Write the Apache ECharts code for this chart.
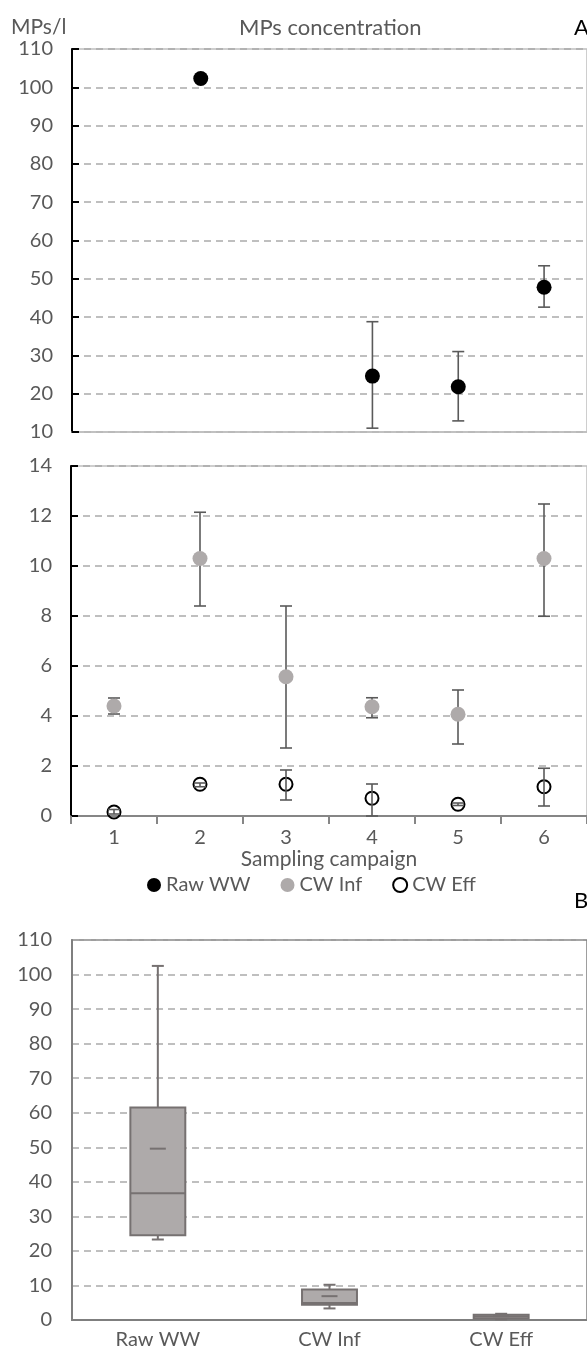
<!DOCTYPE html>
<html>
<head>
<meta charset="utf-8">
<title>MPs concentration</title>
<script src="https://cdn.jsdelivr.net/npm/echarts@6/dist/echarts.min.js"></script>
<style>
    html, body { margin: 0; padding: 0; background: #fff; }
    #mps-chart { width: 587px; height: 1364px; }
</style>
</head>
<body>
<div id="mps-chart"></div>
<script>
// Sampling campaigns (x axis of panel A)
var campaigns = ['1', '2', '3', '4', '5', '6'];

// Raw WW (upper part of panel A), with error bar ends
var rawWW = [null, 102.3, null, 24.6, 21.8, 47.8];
var rawWWLow = [null, null, null, 11.0, 12.9, 42.6];
var rawWWHigh = [null, null, null, 38.8, 31.0, 53.4];

// CW influent
var cwInf = [4.4, 10.3, 5.57, 4.37, 4.07, 10.3];
var cwInfLow = [4.08, 8.4, 2.72, 3.93, 2.88, 7.99];
var cwInfHigh = [4.72, 12.15, 8.4, 4.73, 5.04, 12.48];

// CW effluent
var cwEff = [0.16, 1.27, 1.27, 0.71, 0.47, 1.17];
var cwEffLow = [0.08, 1.17, 0.64, 0.0, 0.42, 0.4];
var cwEffHigh = [0.26, 1.32, 1.84, 1.28, 0.52, 1.91];

// Panel B box plot: [min, Q1, median, Q3, max] and mean
var boxCategories = ['Raw WW', 'CW Inf', 'CW Eff'];
var boxStats = [
    [23.3, 24.5, 36.7, 61.5, 102.5],
    [3.35, 4.4, 4.9, 8.85, 10.2],
    [0.2, 0.4, 1.0, 1.5, 1.8]
];
var boxMeans = [49.6, 6.9, 1.1];

var textColor = '#595959';
var fontName = 'Lato, "Liberation Sans", sans-serif';
var fontSize = 20;

// turn low/high arrays into [index, low, high] rows
function errorRows(low, high) {
    var rows = [];
    for (var i = 0; i < low.length; i++) {
        if (low[i] !== null && high[i] !== null) {
            rows.push([i, low[i], high[i]]);
        }
    }
    return rows;
}

function errorBarItem(params, api) {
    var x = api.value(0);
    var lo = api.coord([x, api.value(1)]);
    var hi = api.coord([x, api.value(2)]);
    var half = 6;
    var style = { stroke: '#5a5a5a', lineWidth: 1.6 };
    return {
        type: 'group',
        children: [
            { type: 'line', shape: { x1: lo[0], y1: lo[1], x2: hi[0], y2: hi[1] }, style: style },
            { type: 'line', shape: { x1: lo[0] - half, y1: lo[1], x2: lo[0] + half, y2: lo[1] }, style: style },
            { type: 'line', shape: { x1: hi[0] - half, y1: hi[1], x2: hi[0] + half, y2: hi[1] }, style: style }
        ]
    };
}

function boxItem(params, api) {
    var x = api.value(0);
    var bw = api.size([1, 0])[0] * 0.32;
    var pMin = api.coord([x, api.value(1)]);
    var pQ1 = api.coord([x, api.value(2)]);
    var pMed = api.coord([x, api.value(3)]);
    var pQ3 = api.coord([x, api.value(4)]);
    var pMax = api.coord([x, api.value(5)]);
    var pMean = api.coord([x, api.value(6)]);
    var cx = pMed[0];
    var cap = 6;
    var line = { stroke: '#767171', lineWidth: 2 };
    return {
        type: 'group',
        children: [
            { type: 'line', shape: { x1: cx, y1: pMax[1], x2: cx, y2: pQ3[1] }, style: line },
            { type: 'line', shape: { x1: cx, y1: pQ1[1], x2: cx, y2: pMin[1] }, style: line },
            { type: 'line', shape: { x1: cx - cap, y1: pMax[1], x2: cx + cap, y2: pMax[1] }, style: line },
            { type: 'line', shape: { x1: cx - cap, y1: pMin[1], x2: cx + cap, y2: pMin[1] }, style: line },
            {
                type: 'rect',
                shape: { x: cx - bw / 2, y: pQ3[1], width: bw, height: pQ1[1] - pQ3[1] },
                style: { fill: '#AEAAAA', stroke: '#767171', lineWidth: 2 }
            },
            { type: 'line', shape: { x1: cx - bw / 2, y1: pMed[1], x2: cx + bw / 2, y2: pMed[1] }, style: line },
            { type: 'line', shape: { x1: cx - 8, y1: pMean[1], x2: cx + 8, y2: pMean[1] }, style: line }
        ]
    };
}

var boxRows = boxStats.map(function (s, i) {
    return [i, s[0], s[1], s[2], s[3], s[4], boxMeans[i]];
});

var dashed = { color: '#ABABAB', width: 1.5, type: [7, 5] };
var labelStyle = { fontSize: fontSize, color: textColor, fontFamily: fontName };

var chart = echarts.init(document.getElementById('mps-chart'));

var option = {
    animation: false,
    textStyle: { fontFamily: fontName },
    title: [
        { text: 'MPs/l', left: 6, top: 12, textStyle: { fontSize: 21, fontWeight: 'normal', color: textColor, fontFamily: fontName } },
        { text: 'MPs concentration', left: 234, top: 12, textStyle: { fontSize: 22, fontWeight: 'normal', color: textColor, fontFamily: fontName } },
        { text: 'A', left: 569, top: 12, textStyle: { fontSize: 22, fontWeight: 'normal', color: '#000', fontFamily: fontName } },
        { text: 'B', left: 569, top: 885, textStyle: { fontSize: 22, fontWeight: 'normal', color: '#000', fontFamily: fontName } }
    ],
    legend: {
        data: ['Raw WW', 'CW Inf', 'CW Eff'],
        left: 142,
        top: 870,
        icon: 'circle',
        itemWidth: 14,
        itemHeight: 14,
        itemGap: 30,
        textStyle: labelStyle
    },
    grid: [
        { left: 72, top: 49, width: 522, height: 383, show: true, borderColor: '#BFBFBF', borderWidth: 1.5 },
        { left: 71, top: 466, width: 522, height: 350, show: true, borderColor: '#BFBFBF', borderWidth: 1.5 },
        { left: 72, top: 940, width: 516, height: 380, show: true, borderColor: '#7F7F7F', borderWidth: 1.5 }
    ],
    xAxis: [
        {
            type: 'category',
            gridIndex: 0,
            data: campaigns,
            axisLine: { onZero: false, lineStyle: { color: '#BFBFBF', width: 1.5 } },
            axisTick: { show: false },
            axisLabel: { show: false }
        },
        {
            type: 'category',
            gridIndex: 1,
            data: campaigns,
            name: 'Sampling campaign',
            nameLocation: 'middle',
            nameGap: 31,
            nameTextStyle: { fontSize: 21, color: textColor, fontFamily: fontName },
            axisLine: { onZero: false, lineStyle: { color: '#868686', width: 2 } },
            axisTick: { show: true, length: 8, lineStyle: { color: '#868686', width: 2 } },
            axisLabel: { margin: 12, fontSize: fontSize, color: textColor, fontFamily: fontName }
        },
        {
            type: 'category',
            gridIndex: 2,
            data: boxCategories,
            axisLine: { onZero: false, lineStyle: { color: '#7F7F7F', width: 2 } },
            axisTick: { show: false },
            axisLabel: { margin: 10, fontSize: fontSize, color: textColor, fontFamily: fontName }
        }
    ],
    yAxis: [
        {
            type: 'value',
            gridIndex: 0,
            min: 10,
            max: 110,
            interval: 10,
            axisLine: { show: true, lineStyle: { color: '#000', width: 2 } },
            axisTick: { show: true, inside: true, length: 7, lineStyle: { color: '#000', width: 2 } },
            axisLabel: { margin: 19, fontSize: fontSize, color: textColor, fontFamily: fontName },
            splitLine: { show: true, lineStyle: dashed }
        },
        {
            type: 'value',
            gridIndex: 1,
            min: 0,
            max: 14,
            interval: 2,
            axisLine: { show: true, lineStyle: { color: '#000', width: 2 } },
            axisTick: { show: true, inside: true, length: 7, lineStyle: { color: '#000', width: 2 } },
            axisLabel: { margin: 19, fontSize: fontSize, color: textColor, fontFamily: fontName },
            splitLine: { show: true, lineStyle: dashed }
        },
        {
            type: 'value',
            gridIndex: 2,
            min: 0,
            max: 110,
            interval: 10,
            axisLine: { show: true, lineStyle: { color: '#7F7F7F', width: 2 } },
            axisTick: { show: false },
            axisLabel: { margin: 20, fontSize: fontSize, color: textColor, fontFamily: fontName },
            splitLine: { show: true, lineStyle: dashed }
        }
    ],
    series: [
        {
            name: 'Raw WW err',
            type: 'custom',
            xAxisIndex: 0,
            yAxisIndex: 0,
            renderItem: errorBarItem,
            data: errorRows(rawWWLow, rawWWHigh),
            z: 2
        },
        {
            name: 'Raw WW',
            type: 'scatter',
            xAxisIndex: 0,
            yAxisIndex: 0,
            symbolSize: 15,
            itemStyle: { color: '#000', opacity: 1 },
            data: rawWW,
            z: 3
        },
        {
            name: 'CW Inf err',
            type: 'custom',
            xAxisIndex: 1,
            yAxisIndex: 1,
            renderItem: errorBarItem,
            data: errorRows(cwInfLow, cwInfHigh),
            z: 2
        },
        {
            name: 'CW Inf',
            type: 'scatter',
            xAxisIndex: 1,
            yAxisIndex: 1,
            symbolSize: 15,
            itemStyle: { color: '#AEAAAA', opacity: 1 },
            data: cwInf,
            z: 3
        },
        {
            name: 'CW Eff',
            type: 'scatter',
            xAxisIndex: 1,
            yAxisIndex: 1,
            symbolSize: 13,
            itemStyle: { color: 'rgba(255,255,255,0)', borderColor: '#000', borderWidth: 2, opacity: 1 },
            data: cwEff,
            z: 3
        },
        {
            name: 'CW Eff err',
            type: 'custom',
            xAxisIndex: 1,
            yAxisIndex: 1,
            renderItem: errorBarItem,
            data: errorRows(cwEffLow, cwEffHigh),
            z: 4
        },
        {
            name: 'Box',
            type: 'custom',
            xAxisIndex: 2,
            yAxisIndex: 2,
            renderItem: boxItem,
            encode: { x: 0, y: [1, 2, 3, 4, 5, 6] },
            data: boxRows,
            z: 3
        }
    ]
};

chart.setOption(option);
</script>
</body>
</html>
